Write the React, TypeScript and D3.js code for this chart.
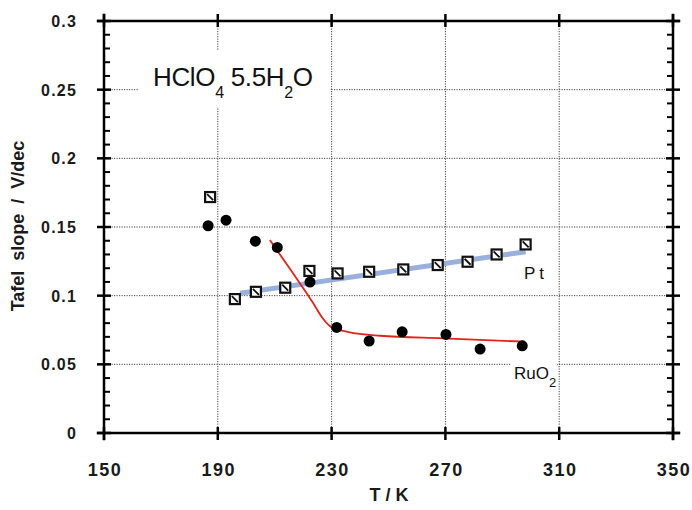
import React from "react";
import * as d3 from "d3";

const xTicks = [150, 190, 230, 270, 310, 350];
const yTicks = [0, 0.05, 0.1, 0.15, 0.2, 0.25, 0.3];
const yTickLabels = ["0", "0.05", "0.1", "0.15", "0.2", "0.25", "0.3"];

const ptT = [187.3, 196.0, 203.4, 213.7, 222.2, 232.1, 243.2, 255.2, 267.3, 277.8, 288.0, 298.2];
const ptV = [0.1718, 0.0975, 0.1028, 0.1058, 0.118, 0.1162, 0.1174, 0.1191, 0.1223, 0.1247, 0.130, 0.1373];

const ruT = [186.6, 192.9, 203.2, 210.9, 222.4, 231.8, 243.2, 254.8, 270.2, 282.2, 297.0];
const ruV = [0.1509, 0.155, 0.1397, 0.1351, 0.1099, 0.0769, 0.067, 0.0737, 0.0718, 0.0611, 0.0635];

const ptFitT = [197.8, 298.2];
const ptFitV = [0.1017, 0.132];

const ruFitT = [208.3, 215.9, 223.5, 226.8, 229.9, 236.0, 247.0, 269.3, 298.0];
const ruFitV = [0.1405, 0.1179, 0.0946, 0.0837, 0.0771, 0.0735, 0.0708, 0.0689, 0.0665];

const W = 692;
const H = 510;
const L = 104, R = 673, T = 21, B = 433;

export default function App() {
  const x = d3.scaleLinear().domain([150, 350]).range([L, R]);
  const y = d3.scaleLinear().domain([0, 0.3]).range([B, T]);
  const minor = d3.range(0, 0.3001, 0.01);
  const font = "'Liberation Sans', Arial, Helvetica, sans-serif";

  const line = d3
    .line<[number, number]>()
    .x((d) => x(d[0]))
    .y((d) => y(d[1]));
  const curve = d3
    .line<[number, number]>()
    .x((d) => x(d[0]))
    .y((d) => y(d[1]))
    .curve(d3.curveMonotoneX);

  const ptFit: [number, number][] = ptFitT.map((t, i) => [t, ptFitV[i]]);
  const ruFit: [number, number][] = ruFitT.map((t, i) => [t, ruFitV[i]]);

  return (
    <svg
      width={W}
      height={H}
      style={{ position: "absolute", left: 0, top: 0, background: "#fff" }}
    >
      {/* grid */}
      <g stroke="#444" strokeWidth={1} strokeDasharray="1.2,1.3">
        {xTicks.slice(1, -1).map((t) => (
          <line key={"gx" + t} x1={x(t)} x2={x(t)} y1={T} y2={B} />
        ))}
        {yTicks.slice(1, -1).map((t) => (
          <line key={"gy" + t} x1={L} x2={R} y1={y(t)} y2={y(t)} />
        ))}
      </g>
      {/* label backgrounds */}
      <rect x={139} y={51} width={191} height={56} fill="#fff" />
      <rect x={520} y={262} width={32} height={20} fill="#fff" />
      <rect x={511} y={352} width={46} height={38} fill="#fff" />

      {/* fits */}
      <path
        d={line(ptFit) || ""}
        fill="none"
        stroke="#8ea6d8"
        strokeWidth={5}
        strokeOpacity={0.9}
      />
      <path d={curve(ruFit) || ""} fill="none" stroke="#e2231a" strokeWidth={1.8} />

      {/* RuO2 points */}
      {ruT.map((t, i) => (
        <circle key={"r" + i} cx={x(t)} cy={y(ruV[i])} r={5.5} fill="#000" />
      ))}
      {/* Pt points */}
      {ptT.map((t, i) => {
        const cx = x(t);
        const cy = y(ptV[i]);
        return (
          <g key={"p" + i}>
            <rect x={cx - 5} y={cy - 5} width={10} height={10} fill="#fff" stroke="#111" strokeWidth={2.2} />
            <line x1={cx - 3} y1={cy - 3} x2={cx + 3} y2={cy + 3} stroke="#111" strokeWidth={1.8} />
          </g>
        );
      })}

      {/* frame */}
      <g stroke="#000" strokeWidth={2.5} strokeLinecap="square">
        <line x1={L - 6} x2={R + 6} y1={T} y2={T} />
        <line x1={L - 6} x2={R + 6} y1={B} y2={B} />
        <line x1={L} x2={L} y1={T - 6} y2={B + 6} />
        <line x1={R} x2={R} y1={T - 6} y2={B + 6} />
      </g>
      {/* major ticks */}
      <g stroke="#000" strokeWidth={2.5}>
        {xTicks.map((t) => (
          <g key={"xt" + t}>
            <line x1={x(t)} x2={x(t)} y1={B - 6} y2={B + 7} />
            <line x1={x(t)} x2={x(t)} y1={T - 7} y2={T + 6} />
          </g>
        ))}
        {yTicks.map((t) => (
          <g key={"yt" + t}>
            <line x1={L - 7} x2={L + 7} y1={y(t)} y2={y(t)} />
            <line x1={R - 7} x2={R + 7} y1={y(t)} y2={y(t)} />
          </g>
        ))}
      </g>
      {/* minor ticks */}
      <g stroke="#000" strokeWidth={2}>
        {minor.map((t, i) =>
          i % 5 === 0 ? null : (
            <g key={"m" + i}>
              <line x1={L} x2={L + 6} y1={y(t)} y2={y(t)} />
              <line x1={R - 6} x2={R} y1={y(t)} y2={y(t)} />
            </g>
          )
        )}
      </g>

      {/* tick labels */}
      <g fontFamily={font} fontWeight="bold" fill="#1a1a1a">
        {yTicks.map((t, i) => (
          <text key={"yl" + t} x={77} y={y(t) + 6} textAnchor="end" fontSize={16} letterSpacing={1.2}>
            {yTickLabels[i]}
          </text>
        ))}
        {xTicks.map((t) => (
          <text key={"xl" + t} x={x(t) + 1} y={476} textAnchor="middle" fontSize={18} letterSpacing={1.5}>
            {t}
          </text>
        ))}
      </g>

      {/* axis titles */}
      <text
        x={389}
        y={501}
        textAnchor="middle"
        fontFamily={font}
        fontWeight="bold"
        fontSize={18}
        fill="#1a1a1a"
        style={{ whiteSpace: "pre" }}
      >
        {"T / K"}
      </text>
      <text
        transform="translate(24,226) rotate(-90)"
        textAnchor="middle"
        fontFamily={font}
        fontWeight="bold"
        fontSize={18}
        fill="#1a1a1a"
        style={{ whiteSpace: "pre" }}
      >
        {"Tafel  slope  /  V/dec"}
      </text>

      {/* annotations */}
      <text x={153} y={86} fontFamily={font} fontSize={26} fill="#111" textLength={160}>
        HClO
        <tspan fontSize={16} dy={12}>4</tspan>
        <tspan fontSize={26} dy={-12}>{" 5.5H"}</tspan>
        <tspan fontSize={16} dy={12}>2</tspan>
        <tspan fontSize={26} dy={-12}>O</tspan>
      </text>
      <text x={524} y={279} fontFamily={font} fontSize={17} fill="#111" letterSpacing={4}>
        Pt
      </text>
      <text x={514} y={379} fontFamily={font} fontSize={17} fill="#111">
        RuO
        <tspan fontSize={13} dy={8}>2</tspan>
      </text>
    </svg>
  );
}
